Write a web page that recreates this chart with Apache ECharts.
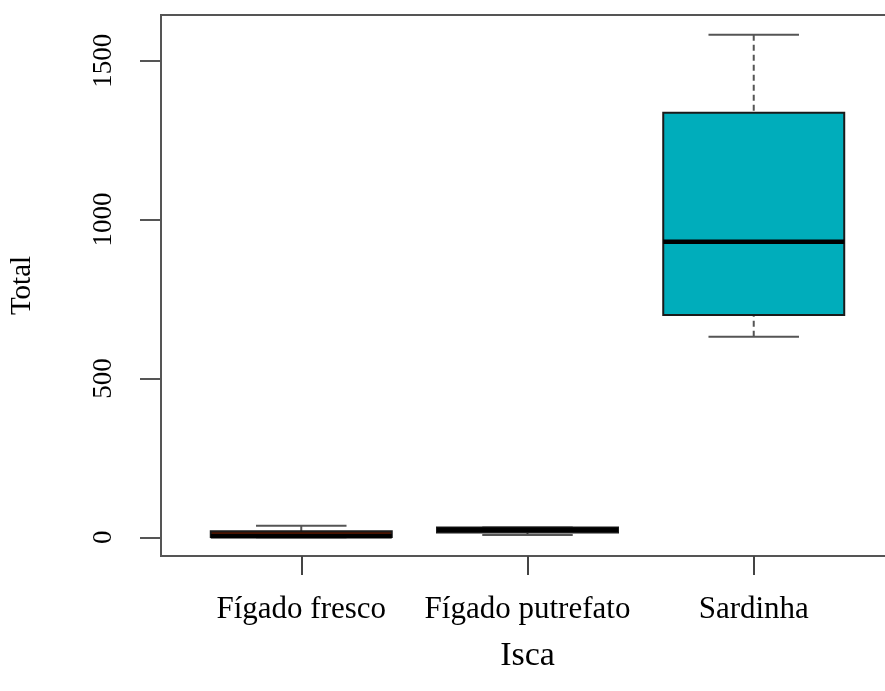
<!DOCTYPE html>
<html>
<head>
<meta charset="utf-8">
<script src="https://cdn.jsdelivr.net/npm/echarts@6/dist/echarts.min.js"></script>
<style>html,body{margin:0;padding:0;background:#fff}#c{width:885px;height:691px}</style>
</head>
<body>
<div id="c"></div>
<script>
// ---- data ----
var categories = ['Fígado fresco', 'Fígado putrefato', 'Sardinha'];
var positions  = [1, 2, 3];
var minVals    = [0, 7, 631];
var q1Vals     = [1, 15, 700];
var medVals    = [3, 24, 930];
var q3Vals     = [19, 31, 1336];
var maxVals    = [36, 31, 1582];
var yTicks     = [0, 500, 1000, 1500];
var fills      = ['#4a1300', '#0a0a0a', '#00adbb'];

var BOX_WEX = 0.8;
var SERIF = '"Liberation Serif", "DejaVu Serif", serif';
var TXT = '#000';

var data = categories.map(function (c, i) {
  return [positions[i], minVals[i], q1Vals[i], medVals[i], q3Vals[i], maxVals[i]];
});

var chart = echarts.init(document.getElementById('c'), null, {renderer: 'canvas'});

function renderItem(params, api) {
  var x = api.value(0);
  var pMin = api.coord([x, api.value(1)]);
  var pQ1 = api.coord([x, api.value(2)]);
  var pMed = api.coord([x, api.value(3)]);
  var pQ3 = api.coord([x, api.value(4)]);
  var pMax = api.coord([x, api.value(5)]);
  var bw = api.size([BOX_WEX, 0])[0];
  var cw = api.size([BOX_WEX / 2, 0])[0];
  var cx = pMed[0];
  var wStyle = {stroke: '#555', lineWidth: 2, lineDash: [6, 4]};
  var cStyle = {stroke: '#555', lineWidth: 2};
  return {
    type: 'group',
    children: [
      {type: 'line', shape: {x1: cx, y1: pMax[1], x2: cx, y2: pQ3[1]}, style: wStyle},
      {type: 'line', shape: {x1: cx, y1: pMin[1], x2: cx, y2: pQ1[1]}, style: wStyle},
      {type: 'line', shape: {x1: cx - cw / 2, y1: pMax[1], x2: cx + cw / 2, y2: pMax[1]}, style: cStyle},
      {type: 'line', shape: {x1: cx - cw / 2, y1: pMin[1], x2: cx + cw / 2, y2: pMin[1]}, style: cStyle},
      {type: 'rect', shape: {x: cx - bw / 2, y: pQ3[1], width: bw, height: pQ1[1] - pQ3[1]},
        style: {fill: fills[params.dataIndex], stroke: '#1a1a1a', lineWidth: 2}},
      {type: 'line', shape: {x1: cx - bw / 2, y1: pMed[1], x2: cx + bw / 2, y2: pMed[1]},
        style: {stroke: '#000', lineWidth: 4.5}}
    ]
  };
}

function txt(size) {
  return {fontFamily: SERIF, fontSize: size, color: TXT};
}

chart.setOption({
  animation: false,
  backgroundColor: '#fff',
  grid: {
    left: 161, right: -9, top: 15, bottom: 135,
    show: true, borderColor: '#555', borderWidth: 2, backgroundColor: 'transparent',
    outerBoundsMode: 'none', containLabel: false
  },
  xAxis: {
    type: 'value', min: 0.38, max: 3.62,
    name: 'Isca', nameLocation: 'middle', nameGap: 83,
    nameTextStyle: txt(34),
    splitLine: {show: false},
    axisLine: {show: true, onZero: false, lineStyle: {color: '#555', width: 2}},
    axisTick: {show: true, customValues: positions, length: 19, lineStyle: {color: '#444', width: 2}},
    axisLabel: Object.assign({
      customValues: positions, margin: 38,
      formatter: function (v) { return categories[Math.round(v) - 1] || ''; }
    }, txt(31))
  },
  yAxis: {
    type: 'value', min: -59, max: 1644,
    name: 'Total', nameLocation: 'middle', nameGap: 124, nameRotate: 90,
    nameTextStyle: txt(29),
    splitLine: {show: false},
    axisLine: {show: true, onZero: false, lineStyle: {color: '#555', width: 2}},
    axisTick: {show: true, customValues: yTicks, length: 21, lineStyle: {color: '#555', width: 2}},
    axisLabel: Object.assign({
      customValues: yTicks, rotate: 90, margin: 44,
      formatter: function (v) { return String(v); }
    }, txt(27))
  },
  series: [{
    type: 'custom',
    renderItem: renderItem,
    encode: {x: 0, y: [1, 2, 3, 4, 5]},
    data: data,
    clip: false
  }]
});
</script>
</body>
</html>
